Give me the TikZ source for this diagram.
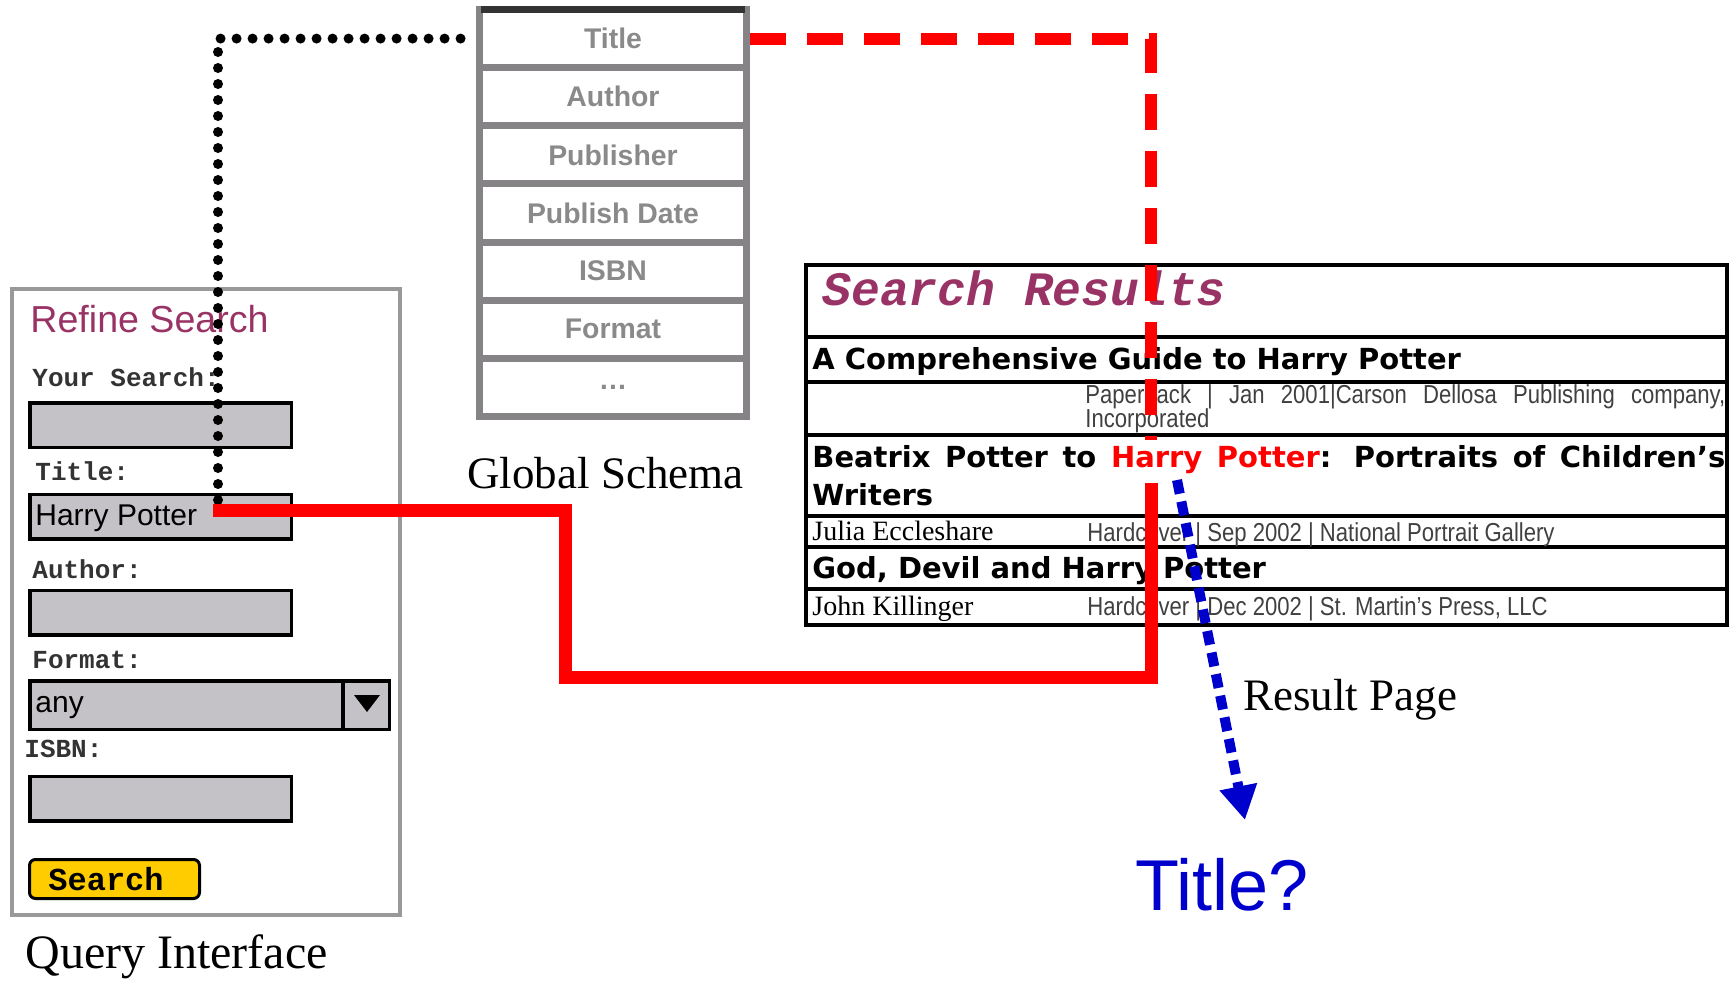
\documentclass[tikz,border=0pt]{standalone}
\usepackage{fontspec}
\setmainfont{Liberation Serif}
\newfontfamily\arialfont{Liberation Sans}
\newfontfamily\courierfont{Liberation Mono}
\newfontfamily\resultfont{DejaVu Sans}
\newfontfamily\narrowfont[FakeStretch=0.85]{Liberation Sans}
\usetikzlibrary{arrows.meta}
\definecolor{fieldgray}{RGB}{196,194,198}
\definecolor{panelgray}{HTML}{999999}
\definecolor{schemagray}{HTML}{858385}
\definecolor{schematext}{HTML}{8A8A8A}
\definecolor{schemadark}{HTML}{333333}
\definecolor{refine}{HTML}{993366}
\definecolor{btnyellow}{HTML}{FFCC00}
\definecolor{titleblue}{HTML}{0000CC}

\begin{document}
\begin{tikzpicture}[x=0.5pt, y=-0.5pt,
    field/.style = {draw, line width=1.75pt, fill=fieldgray, minimum width=130.75pt, minimum height=22.25pt, inner sep=0},
    fieldtext/.style = {anchor=base west, inner sep=0, font=\arialfont\fontsize{15}{18}\selectfont},
    formlabel/.style = {anchor=base west, inner sep=0, text=black!80, font=\courierfont\bfseries\fontsize{13}{15}\selectfont},
    bigcaption/.style = {anchor=base west, inner sep=0, font=\fontsize{22.5}{27}\selectfont},
    schemarow/.style = {draw=schemagray, line width=3.5pt, minimum width=133.5pt, minimum height=29.07pt, inner sep=0, text=schematext, font=\arialfont\bfseries\fontsize{14.2}{17}\selectfont},
    restitle/.style = {anchor=base west, inner sep=0, font=\resultfont\bfseries\fontsize{14.5}{17}\selectfont},
    resname/.style = {anchor=base west, inner sep=0, font=\fontsize{14}{16}\selectfont},
    resinfo/.style = {anchor=base west, inner sep=0, text=black!75, font=\narrowfont\fontsize{13}{15}\selectfont},
    blackdots/.style = {line width=5pt, line cap=round, dash pattern=on 0pt off 8pt},
    reddash/.style = {red, line width=6pt, dash pattern=on 18pt off 10.5pt},
    redline/.style = {red, line width=6.5pt},
    bluearrow/.style = {-{Triangle[width=18pt,length=17pt]}, draw=titleblue, line width=5pt, dash pattern=on 7pt off 4pt}]
\useasboundingbox (0,0) rectangle (1735,980);

% query interface
\node[draw=panelgray, line width=2pt, minimum width=194pt, minimum height=313pt, inner sep=0] (panel) at (206,602) {};
\node[anchor=base west, inner sep=0, text=refine, font=\arialfont\fontsize{18.8}{22}\selectfont] (refine) at (30,332) {Refine Search};
\node[formlabel] (lyour) at (32,386) {Your Search:};
\node[field] (fyour) at (160.5,425) {};
\node[formlabel] (ltitle) at (35,480) {Title:};
\node[field] (ftitle) at (160.5,516.5) {};
\node[fieldtext] (hp) at (35,525) {Harry Potter};
\node[formlabel] (lauthor) at (32,578) {Author:};
\node[field] (fauthor) at (160.5,612.5) {};
\node[formlabel] (lformat) at (32,668) {Format:};
\node[field, minimum width=156.75pt, minimum height=24.25pt] (fformat) at (186.5,705) {};
\node[field, minimum width=23.25pt, minimum height=24.25pt] (fdrop) at (366,705) {};
\fill (354,695) -- (380,695) -- (367,712) -- cycle;
\node[fieldtext] (any) at (35,712) {any};
\node[formlabel] (lisbn) at (24,757) {ISBN:};
\node[field] (fisbn) at (160.5,798.5) {};
\node[draw, line width=1.5pt, fill=btnyellow, rounded corners=3pt, minimum width=85pt, minimum height=19.5pt, inner sep=0] (searchbtn) at (114.5,879) {};
\node[formlabel, text=black, font=\courierfont\bfseries\fontsize{16}{18}\selectfont] (lsearch) at (48,890) {Search};
\node[bigcaption, font=\fontsize{24}{28}\selectfont] (qcap) at (25,968) {Query Interface};

% global schema
\foreach \lbl [count=\i] in {Title,Author,Publisher,Publish Date,ISBN,Format,…}
  \node[schemarow] (gs\i) at (613,{9.5+58.14*(\i-0.5)}) {\lbl};
\draw[schemadark, line width=3.5pt] (481,9.5) -- (745,9.5);
\node[bigcaption] (gcap) at (467,488) {Global Schema};

% result page
\foreach \ya/\yb in {265/337,337/382,382/435,435/516,516/547,547/589,589/625}
  \draw[line width=2pt] (806,\ya) rectangle (1727,\yb);
\node[anchor=base west, inner sep=0, text=refine, font=\courierfont\bfseries\itshape\fontsize{24}{28}\selectfont] (sres) at (822,305) {Search Results};
\node[restitle] (r1) at (812,369) {A Comprehensive Guide to Harry Potter};
\node[resinfo] (r1a) at (1085,403) {\makebox[320pt][s]{Paperback | Jan 2001|Carson Dellosa Publishing company,}};
\node[resinfo] (r1b) at (1085,427) {Incorporated};
\node[restitle] (r2) at (812,467) {\makebox[456.5pt][s]{Beatrix Potter to \textcolor{red}{Harry Potter}: Portraits of Children’s}};
\node[restitle] (r2b) at (812,505) {Writers};
\node[resname] (r2n) at (812,540) {Julia Eccleshare};
\node[resinfo] (r2a) at (1087,541) {Hardcover | Sep 2002 | National Portrait Gallery};
\node[restitle] (r3) at (812,578) {God, Devil and Harry Potter};
\node[resname] (r3n) at (812,615) {John Killinger};
\node[resinfo] (r3a) at (1087,615) {Hardcover | Dec 2002 | St. Martin’s Press, LLC};
\node[bigcaption] (rcap) at (1243,710) {Result Page};
\node[anchor=base west, inner sep=0, text=titleblue, font=\arialfont\fontsize{36}{40}\selectfont] (qtitle) at (1135,910) {Title?};

% mappings
\coordinate (dotstart) at (218,500);
\draw[blackdots] (dotstart) |- (gs1.west);
\coordinate (dashend) at (1151,440);
\draw[reddash] (gs1.east) -| (dashend);
\coordinate (solidstart) at (1151,483);
\coordinate (hpend) at (213,510);
\draw[redline] (solidstart) |- (565,677) |- (hpend);
\coordinate (bluestart) at (1177,480);
\coordinate (bluetip) at (1245,820);
\draw[bluearrow] (bluestart) -- (bluetip);
\end{tikzpicture}
\end{document}
